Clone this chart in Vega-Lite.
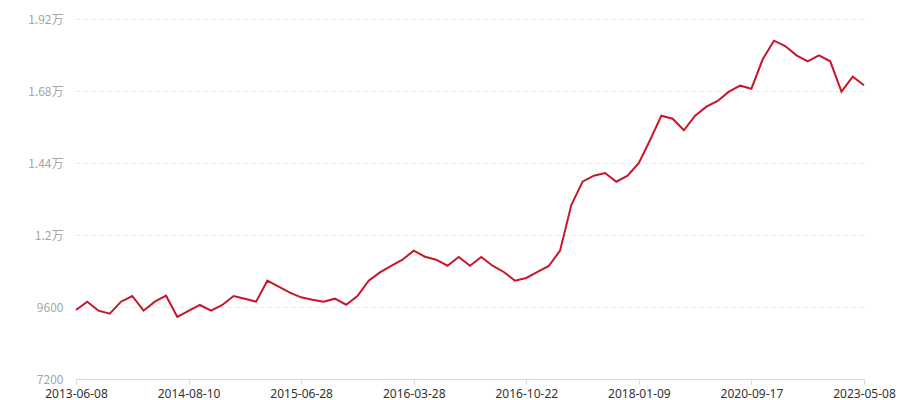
{
  "$schema": "https://vega.github.io/schema/vega-lite/v6.json",
  "width": 788,
  "height": 360,
  "autosize": {"type": "none"},
  "padding": {"left": 76, "top": 19, "right": 36, "bottom": 21},
  "background": "#ffffff",
  "config": {
    "view": {"stroke": null},
    "font": "Noto Sans CJK SC"
  },
  "data": {
    "values": [
      {"date": "2013-06-08", "value": 9500},
      {"date": "2013-07-21", "value": 9777},
      {"date": "2013-09-02", "value": 9477},
      {"date": "2013-10-15", "value": 9377},
      {"date": "2013-11-27", "value": 9777},
      {"date": "2014-01-09", "value": 9967},
      {"date": "2014-02-21", "value": 9477},
      {"date": "2014-04-05", "value": 9777},
      {"date": "2014-05-18", "value": 9977},
      {"date": "2014-06-30", "value": 9267},
      {"date": "2014-08-10", "value": 9467},
      {"date": "2014-09-14", "value": 9667},
      {"date": "2014-10-19", "value": 9477},
      {"date": "2014-11-23", "value": 9667},
      {"date": "2014-12-28", "value": 9967},
      {"date": "2015-02-01", "value": 9877},
      {"date": "2015-03-08", "value": 9777},
      {"date": "2015-04-12", "value": 10477},
      {"date": "2015-05-17", "value": 10277},
      {"date": "2015-06-07", "value": 10077},
      {"date": "2015-06-28", "value": 9923},
      {"date": "2015-07-26", "value": 9843},
      {"date": "2015-08-23", "value": 9777},
      {"date": "2015-09-20", "value": 9877},
      {"date": "2015-10-18", "value": 9677},
      {"date": "2015-11-15", "value": 9967},
      {"date": "2015-12-13", "value": 10477},
      {"date": "2016-01-10", "value": 10753},
      {"date": "2016-02-07", "value": 10967},
      {"date": "2016-03-06", "value": 11177},
      {"date": "2016-03-28", "value": 11477},
      {"date": "2016-04-18", "value": 11277},
      {"date": "2016-05-09", "value": 11177},
      {"date": "2016-05-30", "value": 10977},
      {"date": "2016-06-20", "value": 11267},
      {"date": "2016-07-11", "value": 10977},
      {"date": "2016-08-01", "value": 11267},
      {"date": "2016-08-22", "value": 10977},
      {"date": "2016-09-12", "value": 10767},
      {"date": "2016-10-03", "value": 10477},
      {"date": "2016-10-22", "value": 10567},
      {"date": "2016-12-06", "value": 10767},
      {"date": "2017-01-20", "value": 10967},
      {"date": "2017-03-06", "value": 11477},
      {"date": "2017-04-20", "value": 12999},
      {"date": "2017-06-04", "value": 13777},
      {"date": "2017-07-19", "value": 13977},
      {"date": "2017-09-02", "value": 14067},
      {"date": "2017-10-17", "value": 13777},
      {"date": "2017-11-30", "value": 13977},
      {"date": "2018-01-09", "value": 14400},
      {"date": "2018-04-16", "value": 15167},
      {"date": "2018-07-22", "value": 15977},
      {"date": "2018-10-27", "value": 15877},
      {"date": "2019-02-01", "value": 15490},
      {"date": "2019-05-09", "value": 15977},
      {"date": "2019-08-14", "value": 16277},
      {"date": "2019-11-19", "value": 16467},
      {"date": "2020-02-24", "value": 16777},
      {"date": "2020-06-10", "value": 16977},
      {"date": "2020-09-17", "value": 16877},
      {"date": "2020-12-19", "value": 17857},
      {"date": "2021-03-22", "value": 18477},
      {"date": "2021-06-23", "value": 18300},
      {"date": "2021-09-24", "value": 17990},
      {"date": "2021-12-26", "value": 17790},
      {"date": "2022-03-29", "value": 17990},
      {"date": "2022-06-30", "value": 17790},
      {"date": "2022-10-01", "value": 16777},
      {"date": "2023-01-02", "value": 17277},
      {"date": "2023-05-08", "value": 16990}
    ]
  },
  "mark": {"type": "line", "color": "#c8162a", "strokeWidth": 2, "strokeJoin": "miter"},
  "encoding": {
    "x": {
      "field": "date",
      "type": "ordinal",
      "sort": null,
      "scale": {"type": "point", "padding": 0},
      "axis": {
        "title": null,
        "labelExpr": "indexof(['2013-06-08', '2014-08-10', '2015-06-28', '2016-03-28', '2016-10-22', '2018-01-09', '2020-09-17', '2023-05-08'], datum.value) >= 0 ? datum.value : ''",
        "tickOpacity": {"condition": {"test": "indexof(['2013-06-08', '2014-08-10', '2015-06-28', '2016-03-28', '2016-10-22', '2018-01-09', '2020-09-17', '2023-05-08'], datum.value) >= 0", "value": 1}, "value": 0},
        "labelAngle": 0,
        "labelFont": "Noto Sans",
        "labelColor": "#333333",
        "labelFontSize": 12,
        "labelPadding": 4,
        "labelOverlap": false,
        "labelBound": false,
        "labelFlush": false,
        "domainColor": "#d9d9d9",
        "tickColor": "#d9d9d9",
        "tickSize": 5,
        "grid": false
      }
    },
    "y": {
      "field": "value",
      "type": "quantitative",
      "scale": {"domain": [7200, 19200], "nice": false, "zero": false},
      "axis": {
        "title": null,
        "values": [7200, 9600, 12000, 14400, 16800, 19200],
        "labelExpr": "datum.value >= 10000 ? (datum.value / 10000) + '万' : '' + datum.value",
        "labelColor": "#a6a6a6",
        "labelFontSize": 12,
        "labelPadding": 13,
        "labelOverlap": false,
        "domain": false,
        "ticks": false,
        "grid": true,
        "gridColor": "#e6e6e6",
        "gridDash": [4, 4],
        "gridWidth": 1
      }
    }
  }
}
